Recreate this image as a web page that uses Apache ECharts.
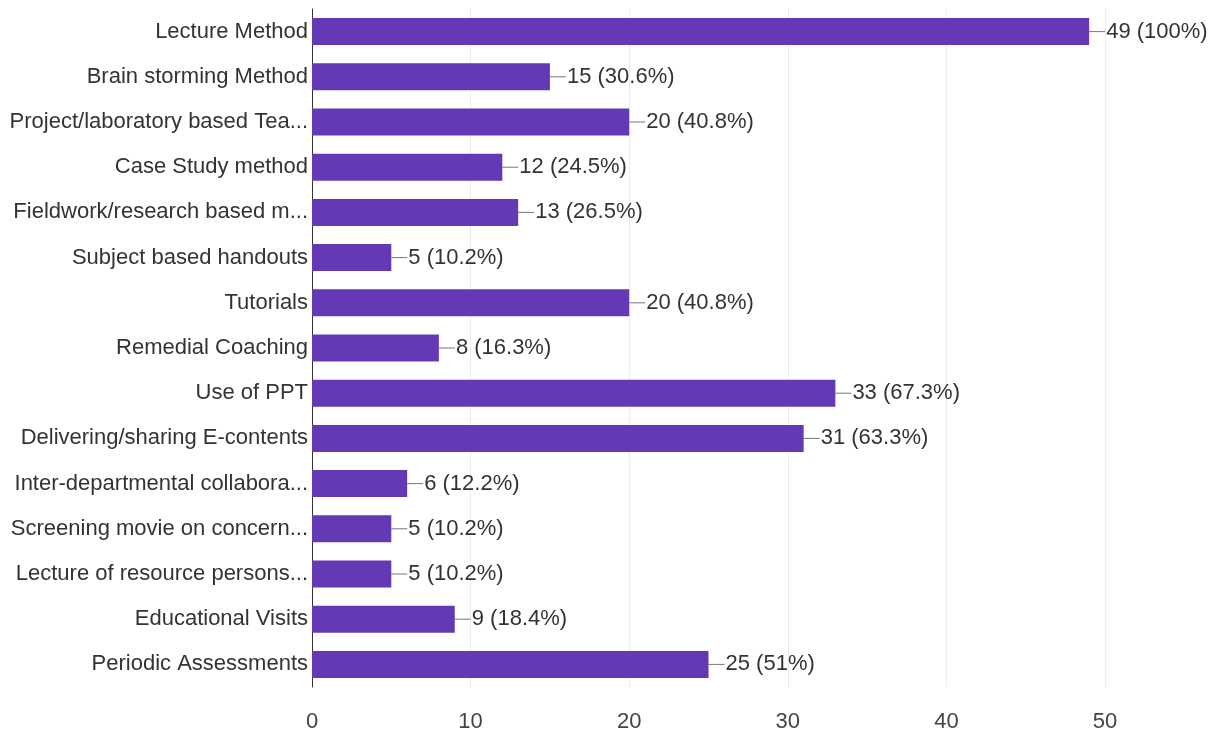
<!DOCTYPE html>
<html>
<head>
<meta charset="utf-8">
<script src="https://cdn.jsdelivr.net/npm/echarts@6/dist/echarts.min.js"></script>
<style>
  html, body { margin: 0; padding: 0; background: #fff; }
  #vis { width: 1220px; height: 740px; }
</style>
</head>
<body>
<div id="vis"></div>
<script>
const categories = [
  'Lecture Method',
  'Brain storming Method',
  'Project/laboratory based Tea...',
  'Case Study method',
  'Fieldwork/research based m...',
  'Subject based handouts',
  'Tutorials',
  'Remedial Coaching',
  'Use of PPT',
  'Delivering/sharing E-contents',
  'Inter-departmental collabora...',
  'Screening movie on concern...',
  'Lecture of resource persons...',
  'Educational Visits',
  'Periodic Assessments'
];
const counts = [49, 15, 20, 12, 13, 5, 20, 8, 33, 31, 6, 5, 5, 9, 25];
const percents = ['100%', '30.6%', '40.8%', '24.5%', '26.5%', '10.2%', '40.8%', '16.3%', '67.3%', '63.3%', '12.2%', '10.2%', '10.2%', '18.4%', '51%'];
const ticks = [0, 10, 20, 30, 40, 50];

const font = '"Liberation Sans", Arial, sans-serif';

const chart = echarts.init(document.getElementById('vis'), null, { renderer: 'canvas' });

const options = {
  animation: false,
  grid: { left: 312, right: 115, top: 9, bottom: 53, containLabel: false, outerBoundsMode: 'none' },
  xAxis: {
    type: 'value',
    min: ticks[0],
    max: ticks[ticks.length - 1],
    interval: 10,
    axisLine: { show: false },
    axisTick: { show: false },
    splitLine: { lineStyle: { color: '#ececec', width: 1 } },
    axisLabel: { color: '#444', fontFamily: font, fontSize: 22, margin: 24 }
  },
  yAxis: {
    type: 'category',
    data: categories,
    inverse: true,
    axisTick: { show: false },
    axisLine: { lineStyle: { color: '#333', width: 1 } },
    axisLabel: { color: '#333', fontFamily: font, fontSize: 22, margin: 4 }
  },
  series: [{
    type: 'bar',
    data: counts,
    barWidth: 27,
    itemStyle: { color: '#6439b5' },
    label: {
      show: true,
      position: 'right',
      distance: 0,
      formatter: (p) => '{l|}{t|' + p.value + ' (' + percents[p.dataIndex] + ')}',
      rich: {
        l: { width: 16, height: 1, backgroundColor: '#777' },
        t: { color: '#333', fontFamily: font, fontSize: 22, padding: [0, 0, 0, 1] }
      }
    }
  }]
};

chart.setOption(options);
</script>
</body>
</html>
